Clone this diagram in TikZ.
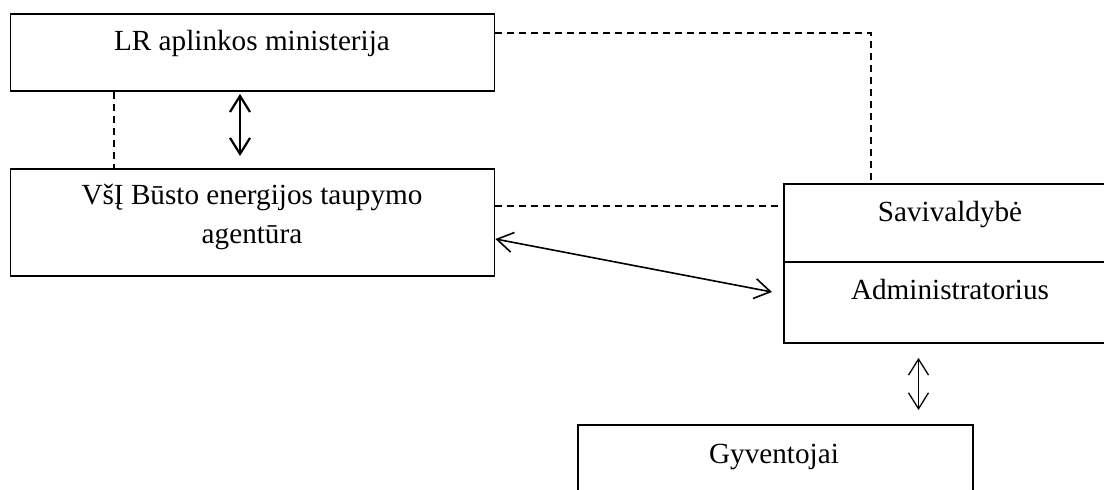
\documentclass[tikz,border=0pt]{standalone}
\usepackage{fontspec}
\setmainfont{Liberation Serif}
\usetikzlibrary{arrows.meta}
\begin{document}
\begin{tikzpicture}[x=1pt,y=-1pt,
  box/.style={draw, line width=1.9pt, inner sep=0pt, anchor=north west},
  dline/.style={line width=1.5pt, dash pattern=on 7pt off 5pt},
  arr/.style={line width=1.6pt, {Straight Barb[length=16pt,width=20pt]}-{Straight Barb[length=16pt,width=20pt]}},
  txt/.style={font=\fontsize{29.2}{38}\selectfont, anchor=base, inner sep=0pt}]
\useasboundingbox (0,0) rectangle (1104,490);
\clip (0,0) rectangle (1104,490);
% boxes
\node[box, minimum width=484pt, minimum height=77pt] (lr) at (9.5,13) {};
\node[box, minimum width=484pt, minimum height=107pt] (vsi) at (9.5,168) {};
\node[box, minimum width=345pt, minimum height=78pt] (sav) at (783,183) {};
\node[box, minimum width=345pt, minimum height=81pt] (adm) at (783,261) {};
\node[box, minimum width=395pt, minimum height=100pt] (gyv) at (577,424) {};
% texts
\node[txt] (lrt) at (252,50) {LR aplinkos ministerija};
\node[txt] (vsit1) at (252,204) {VšĮ Būsto energijos taupymo};
\node[txt] (vsit2) at (252,243) {agentūra};
\node[txt] (savt) at (950,221) {Savivaldybė};
\node[txt] (admt) at (950,299) {Administratorius};
\node[txt] (gyvt) at (774,463) {Gyventojai};
% helper coordinates
\coordinate (d1) at (114,0);
\coordinate (a1) at (240,0);
\coordinate (c1) at (871,33);
\coordinate (c2) at (0,206);
\coordinate (c3) at (0,239);
\coordinate (c4) at (772,292);
\coordinate (c5) at (918.5,0);
% connectors
\draw[dline] (lr.south -| d1) -- (vsi.north -| d1);
\draw[arr, line width=2.2pt] ([yshift=-2pt]lr.south -| a1) -- ([yshift=12pt]vsi.north -| a1);
\draw[dline] (lr.east |- c1) -- (c1) -- (sav.north -| c1);
\draw[dline] (vsi.east |- c2) -- (sav.west |- c2);
\draw[arr] (vsi.east |- c3) -- (c4);
\draw[arr, line width=1.3pt] ([yshift=-14pt]adm.south -| c5) -- ([yshift=14pt]gyv.north -| c5);
\end{tikzpicture}
\end{document}
